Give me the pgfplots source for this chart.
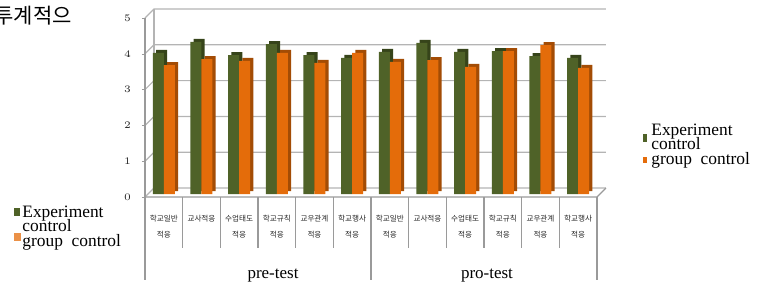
\documentclass[border=0pt]{standalone}
\usepackage{pgfplots}
\usepackage{pgfplotstable}
\pgfplotsset{compat=1.18}
\usepackage{fontspec}
\setmainfont{Liberation Serif}
\newfontfamily\kr{Noto Sans CJK KR}
\newfontfamily\calfont{Carlito}
\definecolor{grn}{HTML}{4F6228}
\definecolor{grnd}{HTML}{36441A}
\definecolor{org}{HTML}{E46C0A}
\definecolor{orgd}{HTML}{A34C05}
\definecolor{gridc}{HTML}{B4B4B4}
\definecolor{axc}{HTML}{9A9A9A}

\pgfplotstableread{
x g o
0 3.94 3.60
1 4.25 3.77
2 3.88 3.72
3 4.19 3.94
4 3.88 3.66
5 3.80 3.94
6 3.97 3.69
7 4.22 3.74
8 3.97 3.55
9 3.99 3.99
10 3.85 4.16
11 3.80 3.52
}\data

\begin{document}
\begin{tikzpicture}[x=0.5pt,y=-0.5pt]
\begin{axis}[
  at={(72.5pt,-98.5pt)}, anchor=south west,
  scale only axis, width=226pt, height=89.5pt,
  xmin=-0.5, xmax=11.5, ymin=0, ymax=5,
  axis line style={draw=none},
  tick pos=left, tick align=outside,
  ytick={0,...,5}, xtick={0,...,11},
  xticklabels={{학교일반\\적응},{교사적응},{수업태도\\적응},{학교규칙\\적응},{교우관계\\적응},{학교행사\\적응},{학교일반\\적응},{교사적응},{수업태도\\적응},{학교규칙\\적응},{교우관계\\적응},{학교행사\\적응}},
  xtick style={draw=none},
  ytick style={draw=axc},
  major tick length=1.5pt,
  yticklabel style={font=\calfont\fontsize{5.5}{6}\selectfont, text=black!85, xshift=-2pt},
  xticklabel style={font=\kr\fontsize{3.8}{8}\selectfont, align=center, text=black!85, yshift=-4pt},
  clip=false,
]
% back wall and side wall
\pgfplotsinvokeforeach{0,1,2,3,4,5}{
  \draw[gridc, line width=0.6pt] (axis cs:-0.5,#1) -- ([shift={(4.5pt,4.5pt)}]axis cs:-0.5,#1) -- ([shift={(4.5pt,4.5pt)}]axis cs:11.5,#1);
}
\draw[gridc, line width=0.6pt] ([shift={(4.5pt,4.5pt)}]axis cs:-0.5,0) -- ([shift={(4.5pt,4.5pt)}]axis cs:-0.5,5);
\draw[axc, line width=0.6pt] (axis cs:-0.5,0) -- (axis cs:-0.5,5);
\draw[axc, line width=0.6pt] (axis cs:-0.5,0) -- (axis cs:11.5,0) -- ([shift={(4.5pt,4.5pt)}]axis cs:11.5,0);
% bars
\addplot[ybar, bar width=5.5pt, bar shift=-2.75pt, fill=grnd, draw=none, xshift=1.6pt, yshift=3pt] table[x=x,y=g]{\data};
\addplot[ybar, bar width=5.5pt, bar shift=-2.75pt, fill=grn, draw=none, yshift=1.5pt] table[x=x,y=g]{\data};
\addplot[ybar, bar width=5.5pt, bar shift=2.75pt, fill=orgd, draw=none, xshift=1.6pt, yshift=3pt] table[x=x,y=o]{\data};
\addplot[ybar, bar width=5.5pt, bar shift=2.75pt, fill=org, draw=none, yshift=1.5pt] table[x=x,y=o]{\data};
% separators
\pgfplotsinvokeforeach{0.5,1.5,2.5,3.5,4.5,6.5,7.5,8.5,9.5,10.5}{
  \draw[axc, line width=0.6pt] (axis cs:#1,0) -- ([yshift=-25.5pt]axis cs:#1,0);
}
\pgfplotsinvokeforeach{-0.5,5.5,11.5}{
  \draw[axc, line width=0.6pt] (axis cs:#1,0) -- ([yshift=-41.5pt]axis cs:#1,0);
}
\end{axis}
% group labels
\node[anchor=base, inner sep=0, font=\fontsize{8.5}{10}\selectfont] at (273,278) {pre-test};
\node[anchor=base, inner sep=0, font=\fontsize{8.5}{10}\selectfont] at (487,278) {pro-test};
% title fragment
\node[anchor=west, inner sep=0, font=\kr\fontsize{10.5}{12}\selectfont] at (-6,16) {투계적으};
% left legend
\fill[grn] (14,208) rectangle (20,216);
\fill[org!75] (14,233) rectangle (21,241);
\node[anchor=base west, inner sep=0, font=\fontsize{8.7}{10}\selectfont] at (22,217) {Experiment};
\node[anchor=base west, inner sep=0, font=\fontsize{8.7}{10}\selectfont] at (22,231.5) {control};
\node[anchor=base west, inner sep=0, font=\fontsize{8.7}{10}\selectfont] at (22,246) {group\ \ control};
% right legend
\fill[grn] (643,134) rectangle (647,142);
\fill[org] (643,157) rectangle (647,163);
\node[anchor=base west, inner sep=0, font=\fontsize{8.7}{10}\selectfont] at (651,135) {Experiment};
\node[anchor=base west, inner sep=0, font=\fontsize{8.7}{10}\selectfont] at (651,149.5) {control};
\node[anchor=base west, inner sep=0, font=\fontsize{8.7}{10}\selectfont] at (651,164) {group\ \ control};
\pgfresetboundingbox
\path[use as bounding box] (0,0) rectangle (768,285);
\end{tikzpicture}
\end{document}
